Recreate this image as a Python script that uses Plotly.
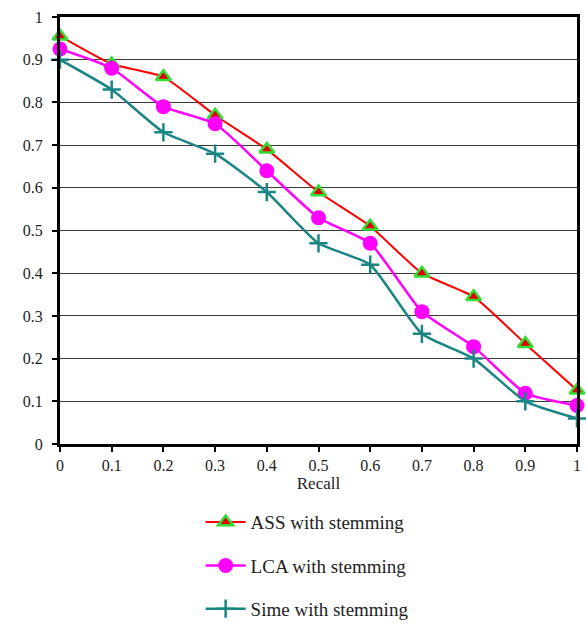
import plotly.graph_objects as go

recall = [0, 0.1, 0.2, 0.3, 0.4, 0.5, 0.6, 0.7, 0.8, 0.9, 1.0]
ass = [0.955, 0.89, 0.86, 0.77, 0.69, 0.59, 0.51, 0.40, 0.345, 0.235, 0.126]
lca = [0.925, 0.88, 0.79, 0.75, 0.64, 0.53, 0.47, 0.31, 0.228, 0.119, 0.09]
sime = [0.90, 0.83, 0.73, 0.68, 0.59, 0.47, 0.42, 0.258, 0.20, 0.10, 0.06]
xticks = [0, 0.1, 0.2, 0.3, 0.4, 0.5, 0.6, 0.7, 0.8, 0.9, 1.0]
xticklabels = ["0", "0.1", "0.2", "0.3", "0.4", "0.5", "0.6", "0.7", "0.8", "0.9", "1"]
yticks = [0, 0.1, 0.2, 0.3, 0.4, 0.5, 0.6, 0.7, 0.8, 0.9, 1.0]
yticklabels = ["0", "0.1", "0.2", "0.3", "0.4", "0.5", "0.6", "0.7", "0.8", "0.9", "1"]

FONT = "Liberation Serif, Times New Roman, serif"

fig = go.Figure()
fig.add_trace(go.Scatter(
    x=recall, y=ass, name="ASS with stemming", mode="lines+markers",
    line=dict(color="#FF0000", width=2, shape="spline", smoothing=0.5),
    marker=dict(symbol="triangle-up", size=13, color="#E00000",
                line=dict(color="#33DD33", width=2.5)),
    cliponaxis=False, legend="legend"))
fig.add_trace(go.Scatter(
    x=recall, y=lca, name="LCA with stemming", mode="lines+markers",
    line=dict(color="#FF00FF", width=2.5, shape="spline", smoothing=0.5),
    marker=dict(symbol="circle", size=15, color="#FF00FF"),
    cliponaxis=False, legend="legend2"))
fig.add_trace(go.Scatter(
    x=recall, y=sime, name="Sime with stemming", mode="lines+markers",
    line=dict(color="#1A8585", width=2.5, shape="spline", smoothing=0.5),
    marker=dict(symbol="cross-thin", size=13, color="#1A8585",
                line=dict(color="#1A8585", width=2.5)),
    cliponaxis=False, legend="legend3"))

leg_common = dict(font=dict(family=FONT, size=19, color="#222"),
                  bgcolor="rgba(0,0,0,0)", xanchor="left", yanchor="middle",
                  itemwidth=40, visible=True)
fig.update_layout(
    width=586, height=629,
    margin=dict(l=60, r=9, t=17, b=185, autoexpand=False),
    paper_bgcolor="white", plot_bgcolor="white",
    showlegend=True,
    font=dict(family=FONT, size=16, color="#222"),
    xaxis=dict(range=[0, 1], tickvals=xticks, ticktext=xticklabels,
               showgrid=False, zeroline=False,
               showline=True, linecolor="black", linewidth=3, mirror=True,
               ticks="outside", ticklen=5, tickwidth=2, tickcolor="black",
               ticklabelstandoff=0,
               tickfont=dict(family=FONT, size=16, color="#222"),
               title=dict(text="Recall", font=dict(family=FONT, size=17, color="#222"),
                          standoff=3)),
    yaxis=dict(range=[0, 1], tickvals=yticks, ticktext=yticklabels,
               showgrid=True, gridcolor="#3a3a3a", gridwidth=1.3, zeroline=False,
               showline=True, linecolor="black", linewidth=3, mirror=True,
               ticks="outside", ticklen=5, tickwidth=2, tickcolor="black",
               ticklabelstandoff=6,
               tickfont=dict(family=FONT, size=16, color="#222")),
    legend=dict(x=0.272, y=-0.183, **leg_common),
    legend2=dict(x=0.272, y=-0.285, **leg_common),
    legend3=dict(x=0.272, y=-0.386, **leg_common),
)

fig.write_html("out.html")
